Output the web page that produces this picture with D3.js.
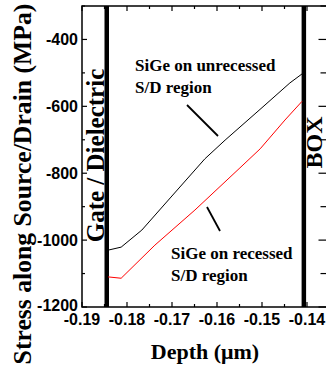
<!DOCTYPE html>
<html>
<head>
<meta charset="utf-8">
<script src="https://cdn.jsdelivr.net/npm/d3@7"></script>
<style>
 body { margin: 0; background: #fff; }
 svg { display: block; }
</style>
</head>
<body>
<script>
// Stress along S/D vs depth - two SiGe cases

// data
var depthUnrecessed = [-0.1842, -0.1813, -0.1767, -0.1704, -0.1627, -0.1582, -0.1500, -0.1438, -0.1411];
var stressUnrecessed = [-1030, -1021, -970, -874, -757, -701, -604, -530, -503];
var depthRecessed = [-0.1842, -0.1813, -0.1738, -0.1649, -0.1549, -0.1504, -0.1449, -0.1411];
var stressRecessed = [-1110, -1114, -1015, -910, -784, -727, -641, -585];
var xTicks = [-0.19, -0.18, -0.17, -0.16, -0.15, -0.14];
var yTicks = [-1200, -1000, -800, -600, -400];
var wallDepths = [-0.1845, -0.1407];   // gate edge and BOX edge

var width = 326, height = 369;
// note: "top" is taken by window.top, so plot edges get their own names
var plotLeft = 82, plotRight = 329.5, plotTop = 6, plotBottom = 307;

var serif = "'Liberation Serif', 'Times New Roman', serif";
var sans = "'Liberation Sans', Arial, sans-serif";

var x = d3.scaleLinear().domain([-0.19, -0.135]).range([plotLeft, plotRight]);
var y = d3.scaleLinear().domain([-1200, -300]).range([plotBottom, plotTop]);

var svg = d3.select("body").append("svg")
 .attr("width", width)
 .attr("height", height);

// minor / major ticks, all pointing in
function drawTicks() {
 var xt = d3.range(-0.19, -0.1349, 0.005);
 xt.forEach(function(v, i) {
  var len = (i % 2 == 0) ? 5 : 3;
  svg.append("line").attr("x1", x(v)).attr("x2", x(v)).attr("y1", plotBottom).attr("y2", plotBottom - len)
   .style("stroke", "#000").style("stroke-width", 1.2);
  svg.append("line").attr("x1", x(v)).attr("x2", x(v)).attr("y1", plotTop).attr("y2", plotTop + len)
   .style("stroke", "#000").style("stroke-width", 1.2);
 });
 var yt = d3.range(-1200, -299, 100);
 yt.forEach(function(v, i) {
  var len = (i % 2 == 0) ? 5 : 3;
  svg.append("line").attr("x1", plotLeft).attr("x2", plotLeft + len).attr("y1", y(v)).attr("y2", y(v))
   .style("stroke", "#000").style("stroke-width", 1.2);
  svg.append("line").attr("x1", plotRight).attr("x2", plotRight - len - 6).attr("y1", y(v)).attr("y2", y(v))
   .style("stroke", "#000").style("stroke-width", 1.2);
 });
}
drawTicks();

// frame
svg.append("rect")
 .attr("x", plotLeft).attr("y", plotTop)
 .attr("width", plotRight - plotLeft).attr("height", plotBottom - plotTop)
 .style("fill", "none").style("stroke", "#000").style("stroke-width", 1.5);

// tick labels
svg.selectAll(".xlab").data(xTicks).enter().append("text")
 .attr("x", function(d) { return x(d); })
 .attr("y", 325)
 .attr("text-anchor", "middle")
 .style("font-family", sans).style("font-weight", "bold").style("font-size", "16px")
 .text(function(d) { return d.toFixed(2); });

svg.selectAll(".ylab").data(yTicks).enter().append("text")
 .attr("x", 78)
 .attr("y", function(d) { return y(d) + 6 - (d == -1200 ? 2 : 0); })
 .attr("text-anchor", "end")
 .style("font-family", sans).style("font-weight", "bold").style("font-size", "16px")
 .text(function(d) { return d; });

// thick walls
svg.selectAll(".wall").data(wallDepths).enter().append("line")
 .attr("x1", function(d) { return x(d); })
 .attr("x2", function(d) { return x(d); })
 .attr("y1", plotTop).attr("y2", plotBottom)
 .style("stroke", "#000").style("stroke-width", 4.5);

// curves
var line = d3.line()
 .x(function(d) { return x(d[0]); })
 .y(function(d) { return y(d[1]); });

svg.append("path")
 .attr("d", line(d3.zip(depthUnrecessed, stressUnrecessed)))
 .style("fill", "none").style("stroke", "#000").style("stroke-width", 1);
svg.append("path")
 .attr("d", line(d3.zip(depthRecessed, stressRecessed)))
 .style("fill", "none").style("stroke", "#f00").style("stroke-width", 1);

// annotation text
function label(tx, ty, str, size) {
 svg.append("text").attr("x", tx).attr("y", ty)
  .style("font-family", serif).style("font-weight", "bold").style("font-size", size + "px")
  .text(str);
}
label(135, 71, "SiGe on unrecessed", 17);
label(135, 93, "S/D region", 17);
label(171, 259, "SiGe on recessed", 17);
label(171, 281, "S/D region", 17);

// pointers
svg.append("line").attr("x1", 187).attr("y1", 105).attr("x2", 218).attr("y2", 136)
 .style("stroke", "#000").style("stroke-width", 1.8);
svg.append("line").attr("x1", 207).attr("y1", 207).attr("x2", 220).attr("y2", 231)
 .style("stroke", "#000").style("stroke-width", 1.8);

// rotated labels
function vlabel(tx, ty, str, size) {
 svg.append("text")
  .attr("transform", "translate(" + tx + "," + ty + ") rotate(-90)")
  .attr("text-anchor", "middle")
  .style("font-family", serif).style("font-weight", "bold").style("font-size", size + "px")
  .text(str);
}
vlabel(104, 155.5, "Gate / Dielectric", 25);
vlabel(322, 142.5, "BOX", 24);
vlabel(31, 184, "Stress along Source/Drain (MPa)", 25.7);

// x title
svg.append("text")
 .attr("x", 205).attr("y", 359)
 .attr("text-anchor", "middle")
 .style("font-family", serif).style("font-weight", "bold").style("font-size", "22px")
 .text("Depth (\u03bcm)");
</script>
</body>
</html>
